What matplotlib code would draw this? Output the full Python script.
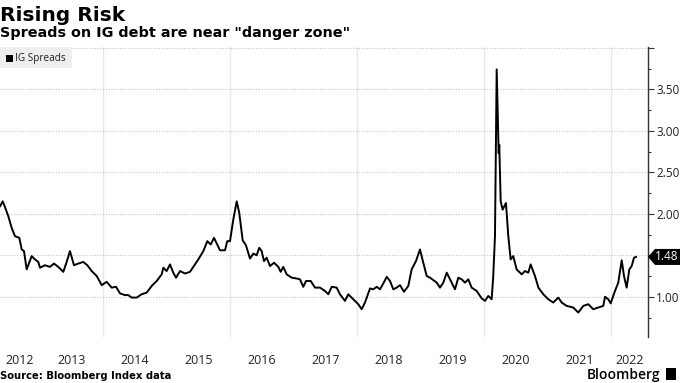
import numpy as np
import matplotlib
matplotlib.use("Agg")
from matplotlib import pyplot as plt
from matplotlib.patches import Rectangle, Polygon
from matplotlib.ticker import FixedLocator, FixedFormatter, MultipleLocator

# ----------------------------------------------------
# Data (decimal years)
# ----------------------------------------------------

dates = [
    2012.378, 2012.420, 2012.457, 2012.509, 2012.562, 2012.614, 2012.682, 2012.720,
    2012.756, 2012.798, 2012.877, 2012.929, 2012.981, 2013.008, 2013.087, 2013.165,
    2013.228, 2013.296, 2013.375, 2013.428, 2013.480, 2013.543, 2013.611, 2013.690,
    2013.753, 2013.822, 2013.901, 2013.980, 2014.058, 2014.137, 2014.205, 2014.268,
    2014.346, 2014.398, 2014.452, 2014.531, 2014.609, 2014.688, 2014.767, 2014.846,
    2014.924, 2014.950, 2015.003, 2015.055, 2015.107, 2015.150, 2015.213, 2015.291,
    2015.370, 2015.422, 2015.501, 2015.580, 2015.643, 2015.696, 2015.748, 2015.843,
    2015.921, 2015.957, 2016.000, 2016.052, 2016.106, 2016.146, 2016.200, 2016.252,
    2016.315, 2016.367, 2016.420, 2016.461, 2016.499, 2016.535, 2016.578, 2016.630,
    2016.693, 2016.761, 2016.798, 2016.839, 2016.893, 2016.972, 2017.050, 2017.102,
    2017.154, 2017.197, 2017.271, 2017.339, 2017.417, 2017.496, 2017.548, 2017.602,
    2017.680, 2017.732, 2017.811, 2017.863, 2017.942, 2018.020, 2018.074, 2018.126,
    2018.205, 2018.257, 2018.310, 2018.362, 2018.414, 2018.468, 2018.520, 2018.572,
    2018.625, 2018.677, 2018.740, 2018.808, 2018.861, 2018.929, 2018.992, 2019.044,
    2019.098, 2019.150, 2019.257, 2019.307, 2019.359, 2019.413, 2019.465, 2019.543,
    2019.596, 2019.649, 2019.701, 2019.753, 2019.806, 2019.885, 2019.964, 2020.016,
    2020.068, 2020.121, 2020.146, 2020.173, 2020.200, 2020.231, 2020.241, 2020.263,
    2020.294, 2020.346, 2020.383, 2020.420, 2020.461, 2020.514, 2020.594, 2020.646,
    2020.698, 2020.735, 2020.803, 2020.857, 2020.934, 2021.013, 2021.091, 2021.170,
    2021.224, 2021.302, 2021.406, 2021.485, 2021.564, 2021.643, 2021.720, 2021.800,
    2021.879, 2021.906, 2021.957, 2021.995, 2022.063, 2022.115, 2022.169, 2022.205,
    2022.247, 2022.289, 2022.326, 2022.362, 2022.394,
]

spreads = [
    2.09, 2.15, 2.08, 1.97, 1.83, 1.73, 1.71, 1.57,
    1.55, 1.33, 1.49, 1.45, 1.42, 1.35, 1.38, 1.36,
    1.40, 1.36, 1.30, 1.42, 1.55, 1.38, 1.40, 1.42,
    1.38, 1.31, 1.25, 1.14, 1.18, 1.11, 1.12, 1.04,
    1.02, 1.02, 0.99, 0.99, 1.03, 1.05, 1.13, 1.19,
    1.27, 1.35, 1.31, 1.39, 1.29, 1.23, 1.31, 1.28,
    1.30, 1.36, 1.45, 1.55, 1.67, 1.63, 1.71, 1.56,
    1.56, 1.67, 1.67, 1.93, 2.15, 2.01, 1.68, 1.62,
    1.46, 1.52, 1.50, 1.59, 1.55, 1.43, 1.47, 1.37,
    1.41, 1.36, 1.30, 1.36, 1.27, 1.23, 1.22, 1.21,
    1.12, 1.19, 1.19, 1.11, 1.11, 1.07, 1.03, 1.12,
    1.11, 1.03, 0.95, 1.03, 0.97, 0.91, 0.85, 0.93,
    1.10, 1.09, 1.12, 1.09, 1.16, 1.24, 1.19, 1.09,
    1.11, 1.14, 1.06, 1.13, 1.33, 1.43, 1.57, 1.41,
    1.25, 1.23, 1.17, 1.11, 1.17, 1.29, 1.21, 1.09,
    1.23, 1.21, 1.17, 1.21, 1.11, 1.07, 0.98, 0.95,
    1.01, 0.97, 1.25, 1.73, 3.74, 2.73, 2.83, 2.15,
    2.05, 2.13, 1.73, 1.45, 1.49, 1.33, 1.27, 1.31,
    1.29, 1.39, 1.25, 1.11, 1.03, 0.97, 0.93, 0.99,
    0.93, 0.89, 0.87, 0.81, 0.89, 0.91, 0.85, 0.87,
    0.89, 1.00, 0.97, 0.92, 1.07, 1.17, 1.44, 1.25,
    1.11, 1.33, 1.37, 1.47, 1.48,
]

years = list(range(2012, 2023))
grid_years = [2014, 2016, 2018, 2020, 2022]
y_ticks = [1.0, 1.5, 2.0, 2.5, 3.0, 3.5, 4.0]
y_labels = ["1.00", "", "2.00", "2.50", "3.00", "3.50", ""]
last_value = spreads[-1]

# ----------------------------------------------------
# Figure layout
# ----------------------------------------------------

W, H = 680, 383
fig = plt.figure(figsize=(W / 100, H / 100), dpi=100)

ax_left, ax_bottom = 0.0, 1 - 337 / H
ax_width, ax_height = 648 / W, (337 - 47) / H
ax = fig.add_axes([ax_left, ax_bottom, ax_width, ax_height])

xmin, xmax = 2012.378, 2022.583
ymin, ymax = 0.515, 4.01

ax.plot(dates, spreads, color="black", linewidth=1.4, zorder=3)
ax.set_xlim(xmin, xmax)
ax.set_ylim(ymin, ymax)

# spines
for side in ["left", "top", "bottom"]:
    ax.spines[side].set_visible(False)
ax.spines["right"].set_color("#333333")
ax.spines["right"].set_linewidth(1.0)

# y axis on the right
ax.yaxis.tick_right()
ax.yaxis.set_major_locator(FixedLocator(y_ticks))
ax.yaxis.set_major_formatter(FixedFormatter(y_labels))
ax.yaxis.set_minor_locator(MultipleLocator(0.25))
ax.tick_params(axis="y", which="major", length=4, width=0.8, color="#333333",
               labelsize=8.5, labelcolor="#222222", pad=2)
ax.tick_params(axis="y", which="minor", length=2.5, width=0.8, color="#333333")
for lab in ax.get_yticklabels():
    lab.set_family("Open Sans")

# x axis: gridlines every two years, labels centred on visible part of year
centres = [(max(y, xmin) + min(y + 1, xmax)) / 2 for y in years]
ax.xaxis.set_major_locator(FixedLocator(grid_years))
ax.xaxis.set_major_formatter(FixedFormatter([""] * len(grid_years)))
ax.xaxis.set_minor_locator(FixedLocator(centres))
ax.xaxis.set_minor_formatter(FixedFormatter([str(y) for y in years]))
ax.tick_params(axis="x", which="both", length=0, labelsize=9,
               labelcolor="#222222", pad=12)
for lab in ax.get_xticklabels(minor=True):
    lab.set_family("Open Sans")

ax.grid(axis="y", which="major", color="#c4c4c4", linestyle=(0, (1, 1.5)), linewidth=0.8)
ax.grid(axis="x", which="major", color="#e8e8e8", linestyle="-", linewidth=1.0)

# ----------------------------------------------------
# Last value tag
# ----------------------------------------------------

tag_y = (ax_bottom + (last_value - ymin) / (ymax - ymin) * ax_height) * H
x0 = 648
poly = Polygon(
    [[(x0) / W, tag_y / H],
     [(x0 + 7) / W, (tag_y + 8) / H],
     [W / W, (tag_y + 8) / H],
     [W / W, (tag_y - 8) / H],
     [(x0 + 7) / W, (tag_y - 8) / H]],
    closed=True, transform=fig.transFigure, facecolor="black",
    edgecolor="none", zorder=10)
fig.patches.append(poly)
fig.text(678 / W, tag_y / H, f"{last_value:.2f}", color="white",
         fontsize=8.5, family="Open Sans", va="center", ha="right", zorder=11)

# ----------------------------------------------------
# Legend box
# ----------------------------------------------------

fig.patches.append(Rectangle((0, 1 - 68 / H), 72 / W, 21 / H,
                             transform=fig.transFigure, facecolor="#eeeeee",
                             edgecolor="none", zorder=5))
fig.patches.append(Rectangle((6 / W, 1 - 62 / H), 7 / W, 7 / H,
                             transform=fig.transFigure, facecolor="black",
                             edgecolor="none", zorder=6))
fig.text(15 / W, 1 - 58 / H, "IG Spreads", fontsize=7.2, family="Open Sans",
         color="#222222", va="center", ha="left", zorder=6)

# ----------------------------------------------------
# Titles and footer
# ----------------------------------------------------

fig.text(0.0, 1 - 21 / H, "Rising Risk", fontsize=14.5, fontweight="bold",
         family="DejaVu Sans", va="baseline", ha="left")
fig.text(0.0, 1 - 37 / H, 'Spreads on IG debt are near "danger zone"',
         fontsize=10.4, fontweight="bold", family="DejaVu Sans",
         va="baseline", ha="left")
fig.text(0.0, 1 - 379 / H, "Source: Bloomberg Index data", fontsize=7.2,
         fontweight="bold", family="DejaVu Sans", va="baseline", ha="left")
fig.text(660 / W, 1 - 379 / H, "Bloomberg", fontsize=10, family="Open Sans",
         fontweight="semibold", va="baseline", ha="right")
fig.patches.append(Rectangle((666 / W, 1 - 380 / H), 10 / W, 12 / H,
                             transform=fig.transFigure, facecolor="black",
                             edgecolor="none"))

fig.savefig("out.png", dpi=100)
